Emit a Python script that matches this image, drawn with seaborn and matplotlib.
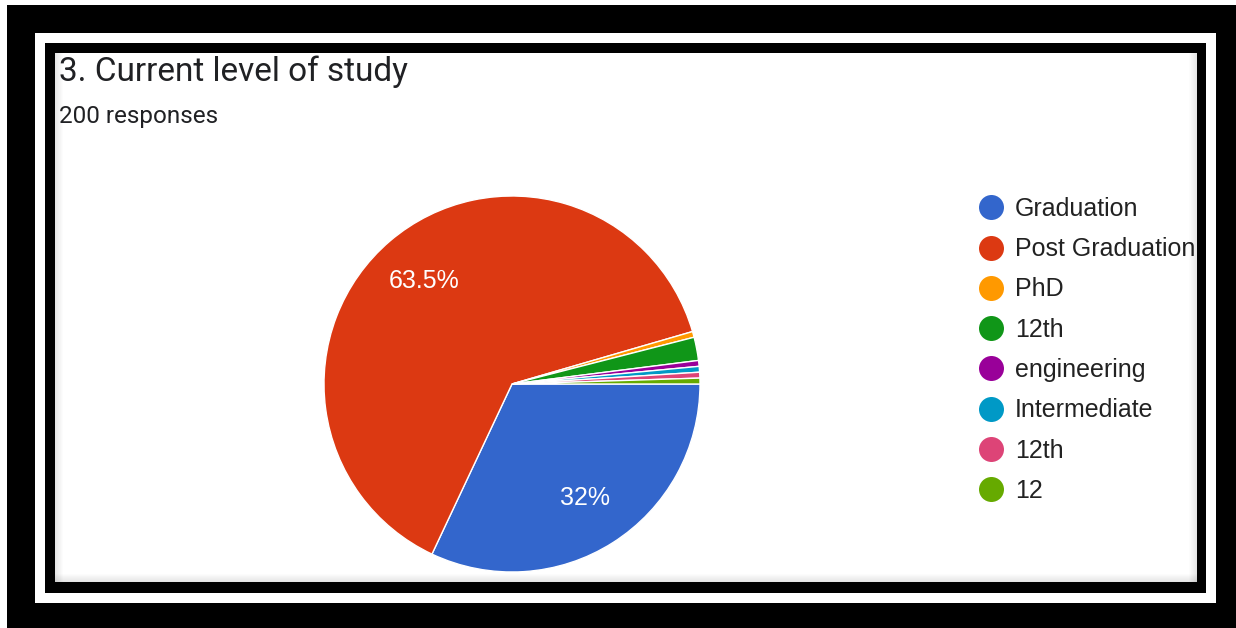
"""Google Forms style pie chart: current level of study."""
import matplotlib
matplotlib.use("Agg")
import matplotlib.pyplot as plt
from matplotlib.lines import Line2D
from matplotlib.patches import Rectangle
import seaborn as sns

# data
levels = ["Graduation", "Post Graduation", "PhD", "12th", "engineering",
          "Intermediate", "12th", "12"]
responses = [64, 127, 1, 4, 1, 1, 1, 1]
colors = ["#3366cc", "#dc3912", "#ff9900", "#109618", "#990099",
          "#0099c6", "#dd4477", "#66aa00"]
title = "3. Current level of study"
subtitle = "200 responses"

W, H = 1236, 628

sns.set_theme(style="white")
plt.rcParams["font.family"] = ["Liberation Sans", "DejaVu Sans"]
palette = sns.color_palette(colors)

fig = plt.figure(figsize=(W / 100, H / 100), dpi=100)
fig.patch.set_facecolor("white")


def px(x0, y0, x1, y1):
    """Pixel box (top-left origin) -> figure fraction rect."""
    return x0 / W, 1 - y1 / H, (x1 - x0) / W, (y1 - y0) / H


def box(x0, y0, x1, y1, color, alpha=1.0, z=20):
    l, b, w, h = px(x0, y0, x1, y1)
    fig.patches.append(Rectangle((l, b), w, h, transform=fig.transFigure,
                                 facecolor=color, edgecolor="none",
                                 alpha=alpha, zorder=z))


def ring(outer, inner, color="black"):
    ox0, oy0, ox1, oy1 = outer
    ix0, iy0, ix1, iy1 = inner
    box(ox0, oy0, ox1, iy0, color)
    box(ox0, iy1, ox1, oy1, color)
    box(ox0, iy0, ix0, iy1, color)
    box(ix1, iy0, ox1, iy1, color)


# pie
l, b, w, h = px(324, 196, 700, 572)
ax = fig.add_axes([l, b, w, h])


def pct(p):
    return f"{p:.3g}%" if p > 5 else ""


wedges, _, autotexts = ax.pie(
    responses, colors=palette, startangle=0, counterclock=False,
    autopct=pct, pctdistance=0.72,
    wedgeprops={"edgecolor": "white", "linewidth": 1.0},
    textprops={"color": "white", "fontsize": 18},
)
ax.set_xlim(-1.0, 1.0)
ax.set_ylim(-1.0, 1.0)
ax.set_aspect("equal")

fig.text(59 / W, 1 - 72 / H, title, fontsize=24, color="#202124",
         va="center", ha="left", family=["Roboto", "DejaVu Sans"])
fig.text(59 / W, 1 - 116 / H, subtitle, fontsize=17.5, color="#202124",
         va="center", ha="left", family=["Roboto", "DejaVu Sans"])

handles = [Line2D([], [], marker="o", linestyle="none", markersize=18,
                  markerfacecolor=c, markeredgecolor="none") for c in palette]
fig.legend(handles, levels, loc="upper left",
           bbox_to_anchor=(978.5 / W, 1 - 197 / H), frameon=False,
           fontsize=18, labelspacing=0.65, handletextpad=0.46,
           handlelength=1.0, borderaxespad=0, borderpad=0,
           labelcolor="#222222")

# soft inner shadow along the content edges
for i in range(8):
    a = 0.10 * (1 - i / 8)
    box(55 + i, 53, 56 + i, 582, "black", a, 19)
    box(1196 - i, 53, 1197 - i, 582, "black", a, 19)
    box(55, 581 - i, 1197, 582 - i, "black", a, 19)

# frame
ring((7, 5, W, H), (35, 33, 1216, 603))
ring((45, 43, 1206, 593), (55, 53, 1197, 582))

fig.savefig("out.png", dpi=100)
plt.close(fig)
